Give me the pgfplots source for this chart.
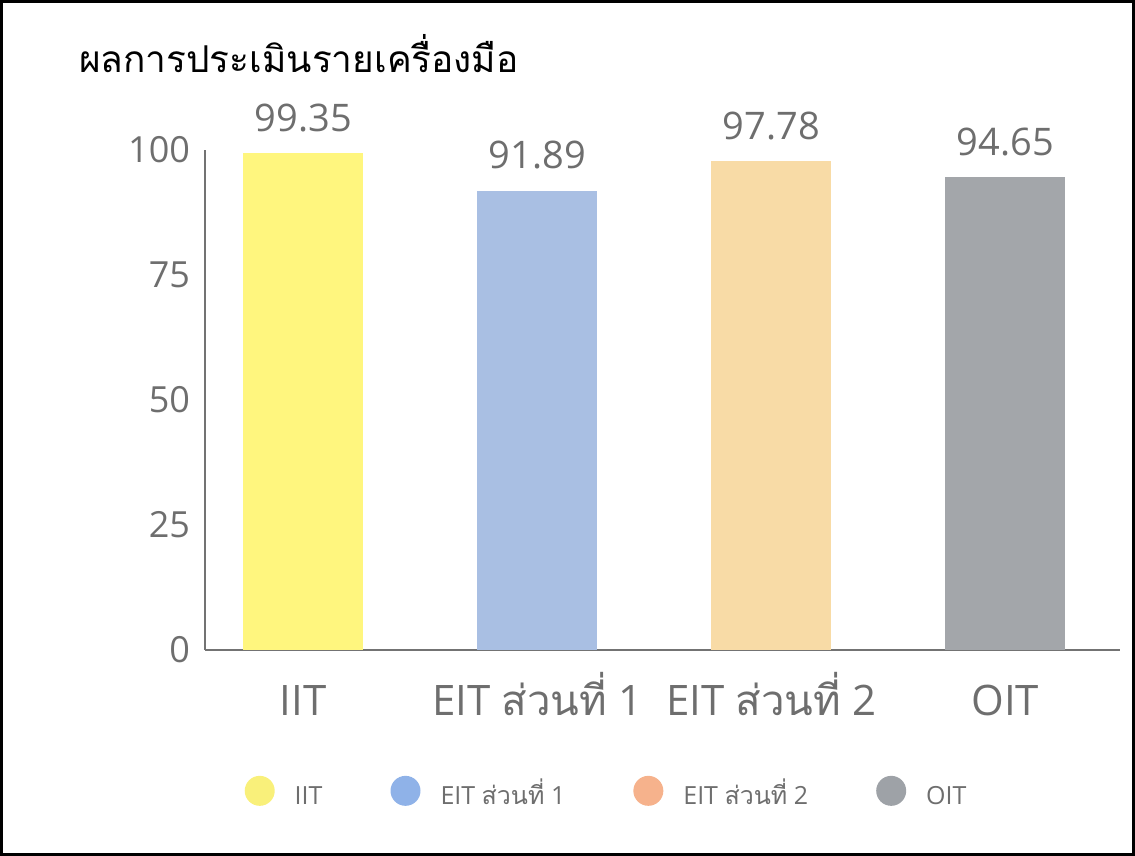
\documentclass[border=0pt]{standalone}
\usepackage{pgfplots}
\pgfplotsset{compat=1.18}
\usepackage{fontspec}
\setmainfont{Open Sans}
\newfontfamily\thai[Script=Thai]{Loma}
\definecolor{cIIT}{HTML}{FFF67E}
\definecolor{cEITa}{HTML}{A9BFE3}
\definecolor{cEITb}{HTML}{F8DBA6}
\definecolor{cOIT}{HTML}{A3A6AA}
\definecolor{dIIT}{HTML}{F9F07A}
\definecolor{dEITa}{HTML}{8FB2E8}
\definecolor{dEITb}{HTML}{F6B28C}
\definecolor{dOIT}{HTML}{9EA2A7}
\definecolor{txt}{HTML}{6E6E6E}
\begin{document}
\begin{tikzpicture}
\useasboundingbox (0,0) rectangle (567.5pt,428pt);
\draw[line width=1.6pt] (0.8pt,0.8pt) rectangle (566.7pt,427.2pt);
\node[anchor=west, font=\thai\fontsize{18.5}{20}\selectfont] at (36pt,401pt) {ผลการประเมินรายเครื่องมือ};
\begin{axis}[
  at={(102.5pt,103pt)}, anchor=south west,
  scale only axis, width=457.5pt, height=250pt,
  xmin=-0.42, xmax=3.49, ymin=0, ymax=100,
  axis x line=bottom, axis y line=left,
  axis line style={draw=black!55, line width=0.8pt, -},
  xtick={0,1,2,3},
  xticklabels={IIT, EIT {\thai ส่วนที่} 1, EIT {\thai ส่วนที่} 2, OIT},
  ytick={0,25,50,75,100},
  major tick length=0pt,
  tick label style={text=txt},
  xticklabel style={font=\fontsize{21}{23}\selectfont, anchor=north, text height=16pt, text depth=3pt, yshift=-13pt},
  yticklabel style={font=\fontsize{18}{20}\selectfont, xshift=-4pt},
  /pgf/number format/assume math mode=true,
  ybar, bar width=60pt, bar shift=0pt,
  nodes near coords,
  every node near coord/.append style={text=txt, font=\fontsize{19}{21}\selectfont, yshift=7pt},
  nodes near coords style={/pgf/number format/.cd, fixed, precision=2, fixed zerofill},
  legend columns=4,
  legend style={at={(0.44,-0.29)}, anchor=center, draw=none, fill=none,
    font=\fontsize{12.5}{14}\selectfont, text=txt,
    nodes={text height=9.5pt, text depth=3pt},
    /tikz/every odd column/.append style={column sep=8pt},
    /tikz/every even column/.append style={column sep=32pt}},
  legend image code/.code={\fill[#1] (0.15cm,0.12cm) circle (7.5pt);},
]
\addplot[draw=none, fill=cIIT, legend image post style={fill=dIIT}] coordinates {(0,99.35)};
\addlegendentry{IIT}
\addplot[draw=none, fill=cEITa, legend image post style={fill=dEITa}] coordinates {(1,91.89)};
\addlegendentry{EIT {\thai ส่วนที่} 1}
\addplot[draw=none, fill=cEITb, legend image post style={fill=dEITb}] coordinates {(2,97.78)};
\addlegendentry{EIT {\thai ส่วนที่} 2}
\addplot[draw=none, fill=cOIT, legend image post style={fill=dOIT}] coordinates {(3,94.65)};
\addlegendentry{OIT}
\end{axis}
\end{tikzpicture}
\end{document}
